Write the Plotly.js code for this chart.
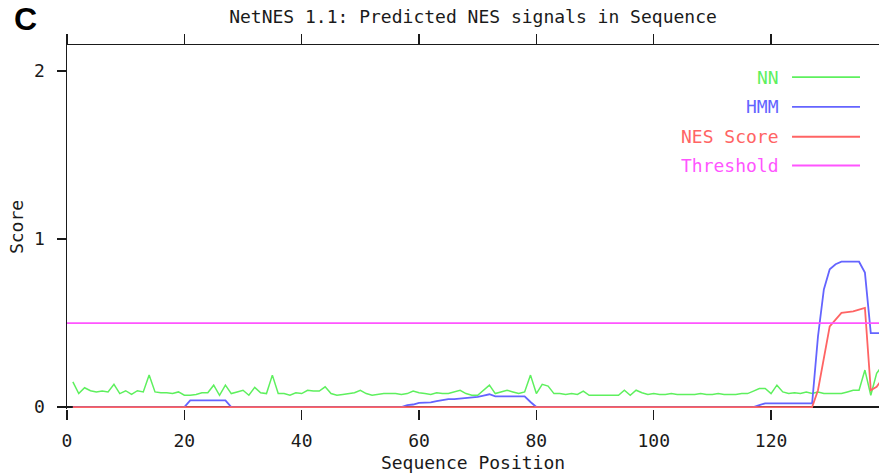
<!DOCTYPE html>
<html>
<head>
<meta charset="utf-8">
<script src="https://cdn.plot.ly/plotly-3.0.1.min.js"></script>
<style>
  html, body { margin: 0; padding: 0; background: #ffffff; }
  #chart { width: 879px; height: 473px; }
</style>
</head>
<body>
<div id="chart"></div>
<script>
// ---- Data ----
const seriesNames = ["NN", "HMM", "NES Score", "Threshold"];
const xTickVals = [0, 20, 40, 60, 80, 100, 120];
const yTickVals = [0, 1, 2];

const nn = [
  0.15, 0.08, 0.115, 0.097, 0.09, 0.095, 0.09, 0.135, 0.08, 0.097,
  0.075, 0.097, 0.09, 0.19, 0.09, 0.085, 0.085, 0.08, 0.09, 0.07,
  0.07, 0.075, 0.085, 0.085, 0.13, 0.07, 0.13, 0.08, 0.09, 0.1,
  0.07, 0.117, 0.085, 0.08, 0.19, 0.08, 0.08, 0.07, 0.085, 0.08,
  0.1, 0.095, 0.095, 0.12, 0.08, 0.07, 0.075, 0.08, 0.085, 0.1,
  0.08, 0.07, 0.075, 0.08, 0.08, 0.08, 0.075, 0.08, 0.095, 0.085,
  0.08, 0.075, 0.085, 0.08, 0.08, 0.09, 0.1, 0.08, 0.07, 0.07,
  0.1, 0.13, 0.08, 0.09, 0.1, 0.09, 0.08, 0.09, 0.19, 0.08,
  0.135, 0.125, 0.08, 0.08, 0.075, 0.08, 0.075, 0.095, 0.07, 0.07,
  0.07, 0.07, 0.07, 0.07, 0.1, 0.07, 0.1, 0.085, 0.075, 0.08,
  0.075, 0.075, 0.08, 0.075, 0.075, 0.075, 0.075, 0.08, 0.075, 0.075,
  0.08, 0.075, 0.075, 0.075, 0.08, 0.08, 0.095, 0.11, 0.11, 0.08,
  0.13, 0.09, 0.08, 0.085, 0.08, 0.09, 0.08, 0.09, 0.08, 0.08,
  0.08, 0.08, 0.09, 0.1, 0.1, 0.22, 0.07, 0.2, 0.25
];

const hmm = [
  0, 0, 0, 0, 0, 0, 0, 0, 0, 0,
  0, 0, 0, 0, 0, 0, 0, 0, 0, 0,
  0.04, 0.04, 0.04, 0.04, 0.04, 0.04, 0.04, 0, 0, 0,
  0, 0, 0, 0, 0, 0, 0, 0, 0, 0,
  0, 0, 0, 0, 0, 0, 0, 0, 0, 0,
  0, 0, 0, 0, 0, 0, 0, 0.012, 0.015, 0.025,
  0.025, 0.028, 0.035, 0.04, 0.047, 0.047, 0.05, 0.057, 0.057, 0.06,
  0.068, 0.076, 0.064, 0.064, 0.064, 0.064, 0.064, 0.064, 0.03, 0,
  0, 0, 0, 0, 0, 0, 0, 0, 0, 0,
  0, 0, 0, 0, 0, 0, 0, 0, 0, 0,
  0, 0, 0, 0, 0, 0, 0, 0, 0, 0,
  0, 0, 0, 0, 0, 0, 0, 0.012, 0.022, 0.022,
  0.022, 0.022, 0.022, 0.022, 0.022, 0.022, 0.022, 0.42, 0.7, 0.82,
  0.85, 0.865, 0.865, 0.865, 0.865, 0.8, 0.44, 0.44, 0.44
];

const nesScore = [
  0, 0, 0, 0, 0, 0, 0, 0, 0, 0,
  0, 0, 0, 0, 0, 0, 0, 0, 0, 0,
  0, 0, 0, 0, 0, 0, 0, 0, 0, 0,
  0, 0, 0, 0, 0, 0, 0, 0, 0, 0,
  0, 0, 0, 0, 0, 0, 0, 0, 0, 0,
  0, 0, 0, 0, 0, 0, 0, 0, 0, 0,
  0, 0, 0, 0, 0, 0, 0, 0, 0, 0,
  0, 0, 0, 0, 0, 0, 0, 0, 0, 0,
  0, 0, 0, 0, 0, 0, 0, 0, 0, 0,
  0, 0, 0, 0, 0, 0, 0, 0, 0, 0,
  0, 0, 0, 0, 0, 0, 0, 0, 0, 0,
  0, 0, 0, 0, 0, 0, 0, 0, 0, 0,
  0, 0, 0, 0, 0, 0, 0, 0.1, 0.3, 0.48,
  0.52, 0.56, 0.565, 0.57, 0.58, 0.59, 0.1, 0.12, 0.17
];

const thresholdX = [0, 139];
const thresholdY = [0.5, 0.5];

// sequence positions 1..N
const positions = nn.map((_, i) => i + 1);

// ---- Styles ----
const colors = { nn: "#5ef05e", hmm: "#6464ff", nes: "#ff6464", thr: "#ff55ff" };
const mono = "DejaVu Sans Mono, Liberation Mono, monospace";
const fs = 18;
const ink = "#1a1a1a";

const traces = [
  { x: positions, y: nn, name: seriesNames[0], type: "scatter", mode: "lines",
    line: { color: colors.nn, width: 1.5 }, xaxis: "x", yaxis: "y" },
  { x: positions, y: hmm, name: seriesNames[1], type: "scatter", mode: "lines",
    line: { color: colors.hmm, width: 1.8 }, xaxis: "x", yaxis: "y" },
  { x: positions, y: nesScore, name: seriesNames[2], type: "scatter", mode: "lines",
    line: { color: colors.nes, width: 1.8 }, xaxis: "x", yaxis: "y" },
  { x: thresholdX, y: thresholdY, name: seriesNames[3], type: "scatter", mode: "lines",
    line: { color: colors.thr, width: 1.8 }, xaxis: "x2", yaxis: "y" }
];

// custom legend (text right-aligned, line sample on the right)
const legendRows = [0.912, 0.830, 0.748, 0.669];
const legendColors = [colors.nn, colors.hmm, colors.nes, colors.thr];
const annotations = seriesNames.map((name, i) => ({
  xref: "paper", yref: "paper", x: 0.879, y: legendRows[i],
  xanchor: "right", yanchor: "middle", showarrow: false,
  text: name, font: { family: mono, size: fs, color: legendColors[i] }
}));
annotations.push({
  xref: "paper", yref: "paper", x: -0.068, y: 1.127,
  xanchor: "left", yanchor: "top", showarrow: false,
  text: "<b>C</b>", font: { family: "Liberation Sans, Arial, sans-serif", size: 32, color: "#000" }
});
const shapes = legendRows.map((yy, i) => ({
  type: "line", xref: "paper", yref: "paper",
  x0: 0.8929, x1: 0.9766, y0: yy, y1: yy,
  line: { color: legendColors[i], width: 1.8 }
}));

const layout = {
  width: 879, height: 473,
  margin: { l: 67, r: 0, t: 45, b: 64 },
  paper_bgcolor: "#ffffff", plot_bgcolor: "#ffffff",
  showlegend: false,
  title: {
    text: "NetNES 1.1: Predicted NES signals in Sequence",
    font: { family: mono, size: fs, color: ink },
    x: 0.5, xref: "paper", xanchor: "center",
    y: 0.964, yref: "container", yanchor: "middle"
  },
  xaxis: {
    range: [0, 138.4], tickvals: xTickVals, ticktext: xTickVals.map(String),
    ticks: "outside", ticklen: 10, tickwidth: 1.5, tickcolor: ink,
    showline: false, showgrid: false, zeroline: false,
    ticklabelstandoff: 5,
    tickfont: { family: mono, size: fs, color: ink },
    title: { text: "Sequence Position", font: { family: mono, size: fs, color: ink }, standoff: 9 },
    automargin: false, fixedrange: true
  },
  xaxis2: {
    overlaying: "x", anchor: "y", side: "top",
    range: [0, 138.4], tickvals: xTickVals,
    ticks: "outside", ticklen: 10, tickwidth: 1.5, tickcolor: ink,
    showline: true, linecolor: ink, linewidth: 1.5,
    showticklabels: false, showgrid: false, zeroline: false, fixedrange: true
  },
  yaxis: {
    range: [-0.0117, 2.155], tickvals: yTickVals, ticktext: yTickVals.map(String),
    ticks: "outside", ticklen: 9, tickwidth: 1.5, tickcolor: ink,
    showline: true, linecolor: ink, linewidth: 1.5,
    showgrid: false,
    zeroline: true, zerolinecolor: ink, zerolinewidth: 2,
    ticklabelstandoff: 8,
    tickfont: { family: mono, size: fs, color: ink },
    title: { text: "Score", font: { family: mono, size: fs, color: ink }, standoff: 6 },
    automargin: false, fixedrange: true
  },
  annotations: annotations,
  shapes: shapes
};

Plotly.newPlot("chart", traces, layout, { staticPlot: true, displayModeBar: false });
</script>
</body>
</html>
